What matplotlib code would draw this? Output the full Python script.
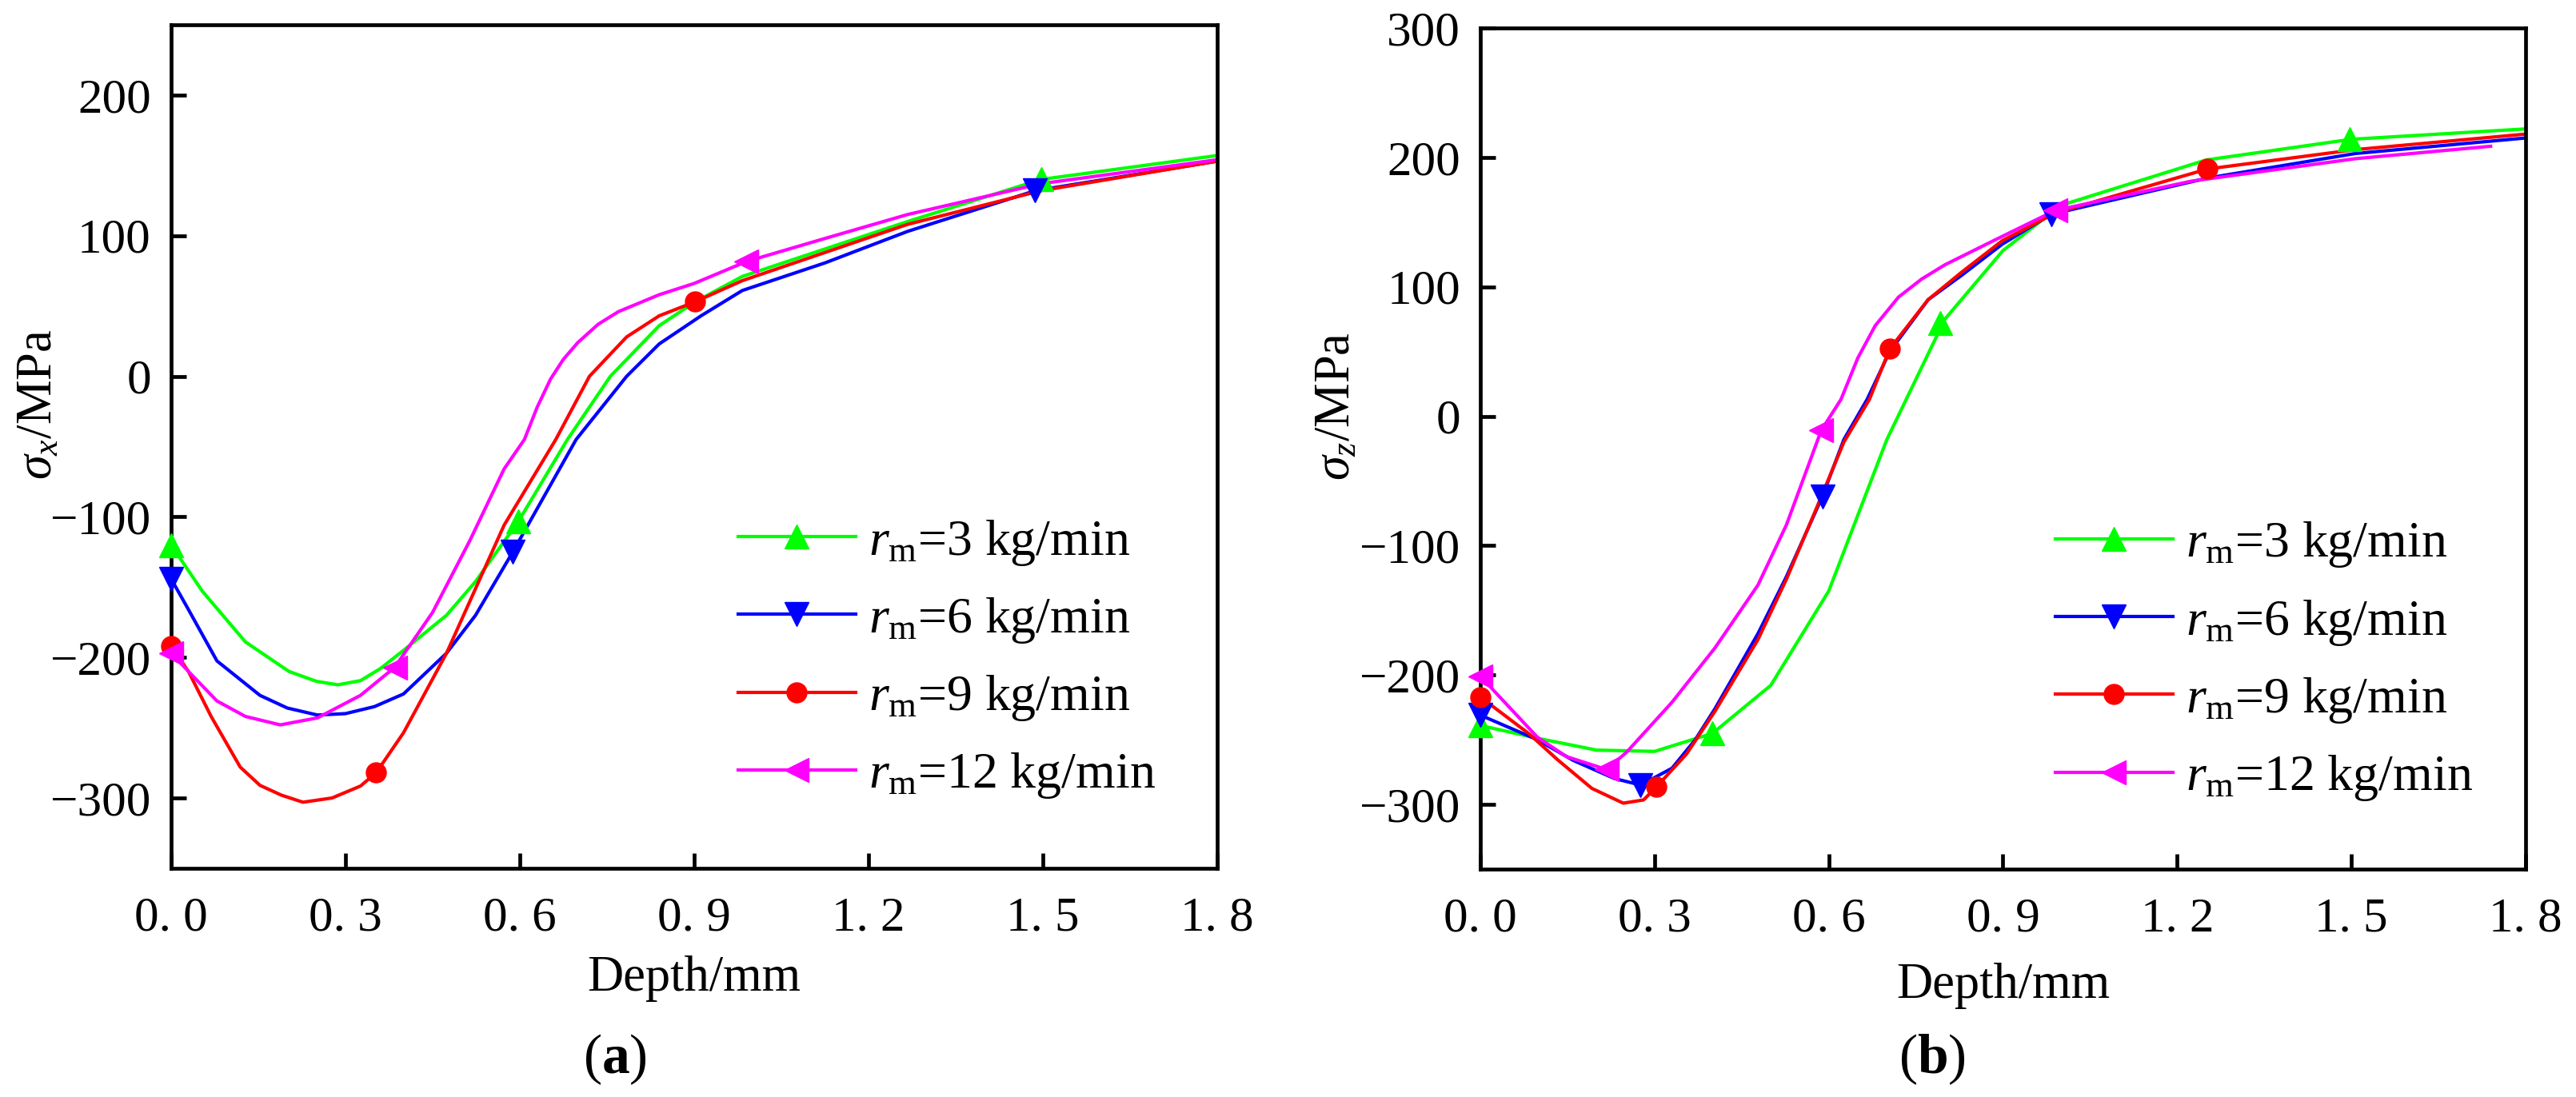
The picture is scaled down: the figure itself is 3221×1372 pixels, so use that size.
import matplotlib
matplotlib.use('Agg')
import matplotlib.pyplot as plt
from matplotlib.lines import Line2D

plt.rcParams['font.family'] = ['Liberation Serif', 'DejaVu Serif']
plt.rcParams['mathtext.fontset'] = 'custom'
plt.rcParams['mathtext.rm'] = 'Liberation Serif'
plt.rcParams['mathtext.it'] = 'Liberation Serif:italic'
plt.rcParams['mathtext.bf'] = 'Liberation Serif:bold'

# ---- data ----
labels = ['$r_\\mathrm{m}$=3 kg/min', '$r_\\mathrm{m}$=6 kg/min',
          '$r_\\mathrm{m}$=9 kg/min', '$r_\\mathrm{m}$=12 kg/min']
colors = ['#00ff00', '#0000ff', '#ff0000', '#ff00ff']
markers = ['^', 'v', 'o', '<']

xticks = [0.0, 0.3, 0.6, 0.9, 1.2, 1.5, 1.8]
xtick_labels = ['0. 0', '0. 3', '0. 6', '0. 9', '1. 2', '1. 5', '1. 8']

# (a) sigma_x
a3_x = [0, 0.054, 0.128, 0.203, 0.25, 0.287, 0.326, 0.36, 0.40, 0.474, 0.524, 0.598, 0.682, 0.756, 0.84, 0.902, 0.983, 1.125, 1.267, 1.497, 1.8]
a3_y = [-120, -153, -189, -210, -217, -219.5, -216.5, -208, -195, -170, -146, -103, -45, 0, 36, 53, 71, 90.5, 110, 140, 157]
a6_x = [0, 0.030, 0.079, 0.153, 0.20, 0.252, 0.30, 0.35, 0.40, 0.474, 0.524, 0.588, 0.697, 0.784, 0.84, 0.912, 0.983, 1.125, 1.267, 1.487, 1.8]
a6_y = [-144, -166, -202.5, -227, -236, -241, -240, -235, -226, -197, -170, -125, -45, 0, 23, 43, 61, 80.6, 103, 132, 153]
a9_x = [0, 0.03, 0.069, 0.119, 0.153, 0.19, 0.227, 0.277, 0.326, 0.353, 0.40, 0.474, 0.524, 0.573, 0.662, 0.72, 0.784, 0.84, 0.902, 0.983, 1.125, 1.267, 1.497, 1.8]
a9_y = [-192, -210, -242, -278, -291, -298, -303, -300, -291.5, -282, -253.6, -197, -151, -106, -45, 0, 28, 43, 53, 68, 88, 108, 132, 153]
a12_x = [0, 0.03, 0.079, 0.128, 0.188, 0.252, 0.326, 0.385, 0.45, 0.514, 0.573, 0.608, 0.63, 0.653, 0.675, 0.70, 0.735, 0.77, 0.84, 0.90, 0.99, 1.125, 1.267, 1.497, 1.8]
a12_y = [-197, -210, -231, -242, -248, -243, -227, -207, -168, -117, -66, -45, -22, -2, 12, 24, 37, 46, 58, 66, 81.6, 98, 115, 137, 154]

a3_mx, a3_my = [0, 0.598, 1.497], [-120, -103, 140]
a6_mx, a6_my = [0, 0.588, 1.487], [-144, -125, 132]
a9_mx, a9_my = [0, 0.353, 0.902], [-192, -282, 53]
a12_mx, a12_my = [0, 0.385, 0.99], [-197, -207, 81.6]

a_yticks = [-300, -200, -100, 0, 100, 200]

# (b) sigma_z
b3_x = [0, 0.1, 0.2, 0.3, 0.4, 0.5, 0.6, 0.7, 0.8, 0.9, 1.0, 1.25, 1.5, 1.8]
b3_y = [-239, -249, -258, -259, -245, -208, -135, -18, 75, 128, 163, 198, 214, 222]
b6_x = [0, 0.098, 0.16, 0.231, 0.276, 0.33, 0.37, 0.404, 0.478, 0.527, 0.589, 0.626, 0.666, 0.705, 0.771, 0.828, 0.899, 0.983, 1.252, 1.507, 1.8]
b6_y = [-231, -250, -266, -280, -285, -272, -250, -226, -168, -124, -62, -18, 13, 50, 90, 108.6, 133, 156, 184, 203, 215]
b9_x = [0, 0.084, 0.133, 0.192, 0.246, 0.281, 0.303, 0.355, 0.404, 0.478, 0.527, 0.577, 0.626, 0.67, 0.705, 0.771, 0.828, 0.899, 0.99, 1.252, 1.507, 1.8]
b9_y = [-217, -245.5, -265.5, -287.6, -299, -296.5, -286.5, -261, -228, -172.6, -126, -73, -20, 13, 52, 90, 111, 135.7, 157, 191, 206, 218]
b12_x = [0, 0.098, 0.148, 0.217, 0.251, 0.33, 0.404, 0.478, 0.527, 0.587, 0.621, 0.65, 0.68, 0.72, 0.76, 0.8, 0.884, 0.99, 1.224, 1.507, 1.74]
b12_y = [-201, -248, -263, -273, -260, -221, -179, -130.5, -84, -11, 13, 45, 70, 92, 106, 117, 135.7, 159, 181.6, 199, 208.6]

b3_mx, b3_my = [0, 0.399, 0.792, 1.497], [-239, -245, 72, 214]
b6_mx, b6_my = [0, 0.276, 0.589, 0.983], [-231, -285, -62, 156]
b9_mx, b9_my = [0, 0.303, 0.705, 1.252], [-217, -286.5, 52, 191]
b12_mx, b12_my = [0, 0.217, 0.587, 0.99], [-201, -273, -11, 159]

b_yticks = [-300, -200, -100, 0, 100, 200, 300]


def ytick_text(v):
    return ('\u2212%d' % -v) if v < 0 else '%d' % v


def draw_panel(ax, curves, marks, ylim, yticks, ylabel, ylab_x, xlab_y, leg_xy):
    for (x, y), (mx, my), c, m in zip(curves, marks, colors, markers):
        ax.plot(x, y, color=c, lw=3)
        ms = 18 if m == 'o' else 22
        ax.plot(mx, my, ls='none', marker=m, color=c, ms=ms, clip_on=False, zorder=4)
    ax.set_xlim(0, 1.8)
    ax.set_ylim(*ylim)
    ax.set_xticks(xticks)
    ax.set_xticklabels(xtick_labels)
    ax.set_yticks(yticks)
    ax.set_yticklabels([ytick_text(v) for v in yticks])
    ax.tick_params(direction='in', length=14, width=3.4, labelsize=44, pad=18)
    ax.tick_params(axis='x', pad=25)
    for s in ax.spines.values():
        s.set_linewidth(3.4)
    ax.set_xlabel('Depth/mm', fontsize=45, va='baseline')
    ax.xaxis.set_label_coords(0.5, xlab_y)
    ax.set_ylabel(ylabel, fontsize=45, va='baseline')
    ax.yaxis.set_label_coords(ylab_x, 0.55)
    handles = [Line2D([], [], color=c, lw=3, marker=m, ms=(18 if m == 'o' else 22))
               for c, m in zip(colors, markers)]
    ax.legend(handles, labels, loc='center left', bbox_to_anchor=leg_xy, frameon=False,
              fontsize=46, handlelength=2.3, handletextpad=0.25, labelspacing=0.55,
              borderpad=0, borderaxespad=0, numpoints=1)


fig = plt.figure(figsize=(32.21, 13.72), dpi=100)
ax_a = fig.add_axes([0.0664, 0.2085, 0.4061, 0.7689])
ax_b = fig.add_axes([0.5747, 0.2077, 0.4057, 0.7668])

draw_panel(ax_a, [(a3_x, a3_y), (a6_x, a6_y), (a9_x, a9_y), (a12_x, a12_y)],
           [(a3_mx, a3_my), (a6_mx, a6_my), (a9_mx, a9_my), (a12_mx, a12_my)],
           (-350, 250), a_yticks, '$\\sigma_{x}$/MPa', -0.114, -0.145, (0.542, 0.248))
draw_panel(ax_b, [(b3_x, b3_y), (b6_x, b6_y), (b9_x, b9_y), (b12_x, b12_y)],
           [(b3_mx, b3_my), (b6_mx, b6_my), (b9_mx, b9_my), (b12_mx, b12_my)],
           (-350, 300), b_yticks, '$\\sigma_{z}$/MPa', -0.1255, -0.153, (0.550, 0.247))

fig.text(769 / 3221, 0.022, '($\\mathbf{a}$)', fontsize=50, ha='center', va='baseline')
fig.text(2416 / 3221, 0.022, '($\\mathbf{b}$)', fontsize=50, ha='center', va='baseline')

fig.savefig('out.png', dpi=100)
